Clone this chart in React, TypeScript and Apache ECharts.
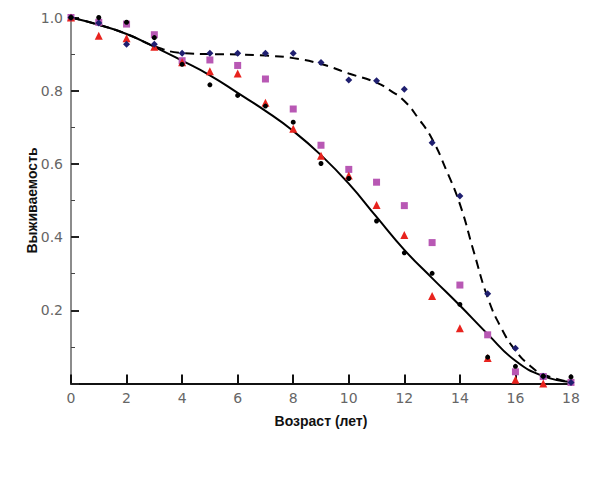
import React, { useEffect, useRef } from "react";
import * as echarts from "echarts";

// Observation ages (years)
const ages = [0, 1, 2, 3, 4, 5, 6, 7, 8, 9, 10, 11, 12, 13, 14, 15, 16, 17, 18];

// Observed survival, four groups
const circleValues = [1.0, 1.0, 0.987, 0.945, 0.872, 0.816, 0.787, 0.758, 0.714, 0.601, 0.56, 0.444, 0.357, 0.301, 0.216, 0.072, 0.047, 0.02, 0.018];
const triangleValues = [1.0, 0.95, 0.943, 0.92, 0.878, 0.853, 0.847, 0.767, 0.696, 0.622, 0.568, 0.488, 0.406, 0.239, 0.151, 0.07, 0.01, 0.0, null];
const squareValues = [1.0, 0.987, 0.982, 0.953, 0.882, 0.884, 0.869, 0.832, 0.75, 0.651, 0.585, 0.55, 0.486, 0.385, 0.269, 0.133, 0.032, 0.019, 0.003];
const diamondValues = [1.0, 0.985, 0.927, 0.927, 0.902, 0.902, 0.902, 0.902, 0.902, 0.877, 0.829, 0.827, 0.804, 0.658, 0.512, 0.245, 0.096, 0.02, 0.003];

// Fitted curves
const solidAges = [0, 1, 2, 3, 4, 5, 6, 7, 8, 9, 10, 11, 12, 13, 14, 15, 16, 17, 18];
const solidValues = [1.0, 0.98, 0.955, 0.92, 0.882, 0.842, 0.794, 0.745, 0.69, 0.624, 0.546, 0.455, 0.365, 0.288, 0.213, 0.135, 0.062, 0.02, 0.004];
const dashedAges = [0, 1, 2, 3, 4, 5, 6, 7, 8, 9, 10, 11, 11.5, 12, 12.5, 13, 13.5, 14, 14.5, 15, 15.5, 16, 16.5, 17, 18];
const dashedValues = [1.0, 0.98, 0.955, 0.922, 0.903, 0.9, 0.899, 0.896, 0.889, 0.873, 0.847, 0.822, 0.8, 0.772, 0.725, 0.668, 0.585, 0.49, 0.36, 0.235, 0.15, 0.09, 0.05, 0.025, 0.003];

// Tick labels
const xTickStep = 2;
const yTickStep = 0.2;

const pairs = (xs: number[], ys: (number | null)[]) =>
  xs.map((x, i) => [x, ys[i]]).filter((p) => p[1] !== null);

export default function App() {
  const ref = useRef<HTMLDivElement>(null);
  useEffect(() => {
    document.body.style.margin = "0";
    const chart = echarts.init(ref.current!, null, { renderer: "svg" });
    const labelFont = "'DejaVu Sans', 'Liberation Sans', sans-serif";
    const titleFont = "'Liberation Sans', Arial, sans-serif";
    chart.setOption({
      animation: false,
      backgroundColor: "#ffffff",
      grid: { left: 71, right: 29, top: 17.5, bottom: 101.5 },
      xAxis: {
        type: "value",
        min: 0,
        max: 18,
        interval: xTickStep,
        name: "Возраст (лет)",
        nameLocation: "middle",
        nameGap: 30,
        nameMoveOverlap: false,
        nameTextStyle: { color: "#111", fontWeight: "bold", fontSize: 14, fontFamily: titleFont },
        axisLine: { show: true, lineStyle: { color: "#111", width: 2 } },
        axisTick: { show: true, inside: true, length: 9, lineStyle: { color: "#111", width: 2 } },
        axisLabel: { color: "#666", fontSize: 14, fontFamily: labelFont, margin: 7 },
        splitLine: { show: false },
      },
      yAxis: {
        type: "value",
        min: 0,
        max: 1,
        interval: yTickStep,
        name: "Выживаемость",
        nameLocation: "middle",
        nameGap: 32,
        nameMoveOverlap: false,
        nameTextStyle: { color: "#111", fontWeight: "bold", fontSize: 14, fontFamily: titleFont },
        axisLine: { show: true, lineStyle: { color: "#666", width: 1.5 } },
        axisTick: { show: true, inside: true, length: 8, lineStyle: { color: "#222", width: 2 } },
        minorTick: { show: true, splitNumber: 2, length: 4, lineStyle: { color: "#444", width: 1 } },
        axisLabel: {
          color: "#666",
          fontSize: 14,
          fontFamily: labelFont,
          margin: 8,
          formatter: (v: number) => (v === 0 ? "" : v.toFixed(1)),
        },
        splitLine: { show: false },
        minorSplitLine: { show: false },
      },
      series: [
        {
          type: "line",
          data: pairs(solidAges, solidValues),
          smooth: 0.5,
          showSymbol: false,
          lineStyle: { color: "#000", width: 2 },
          z: 2,
        },
        {
          type: "line",
          data: pairs(dashedAges, dashedValues),
          smooth: 0.5,
          showSymbol: false,
          lineStyle: { color: "#000", width: 2, type: [9, 6] },
          z: 2,
        },
        {
          type: "scatter",
          data: pairs(ages, squareValues),
          symbol: "rect",
          symbolSize: 7,
          itemStyle: { color: "#b858b4", opacity: 1 },
          z: 3,
        },
        {
          type: "scatter",
          data: pairs(ages, triangleValues),
          symbol: "triangle",
          symbolSize: 8,
          itemStyle: { color: "#e8231e", opacity: 1 },
          z: 4,
        },
        {
          type: "scatter",
          data: pairs(ages, diamondValues),
          symbol: "diamond",
          symbolSize: 7,
          itemStyle: { color: "#1f1f70", opacity: 1 },
          z: 5,
        },
        {
          type: "scatter",
          data: pairs(ages, circleValues),
          symbol: "circle",
          symbolSize: 5,
          itemStyle: { color: "#000", opacity: 1 },
          z: 6,
        },
      ],
    });
    return () => chart.dispose();
  }, []);
  return <div ref={ref} style={{ width: 600, height: 485 }} />;
}
